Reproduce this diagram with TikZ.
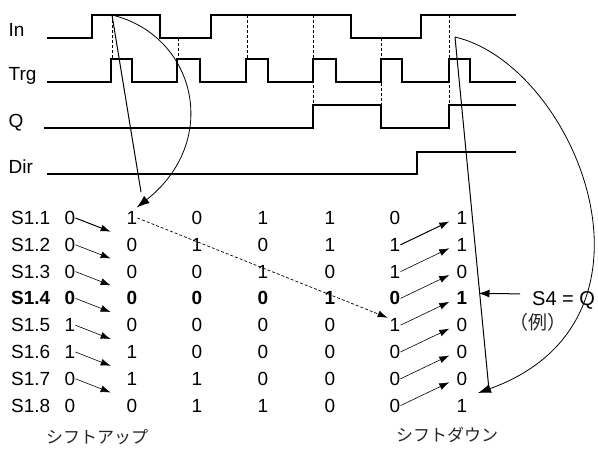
\documentclass[tikz,border=0pt]{standalone}
\usepackage{fontspec}
\setmainfont{Liberation Sans}
\newfontfamily\jpfont{Noto Sans CJK JP}
\usetikzlibrary{arrows.meta}

\tikzset{
  wave/.style={line width=1.1pt},
  sync/.style={densely dashed, line width=0.7pt},
  txt/.style={inner sep=0pt, font=\fontsize{19}{21}\selectfont},
  move/.style={line width=0.6pt, -{Latex[length=10pt,width=7pt]}},
  trail/.style={densely dashed, line width=0.7pt, -{Latex[length=10pt,width=7pt]}},
  swing/.style={line width=0.8pt, -{Latex[length=13pt,width=9pt]}},
  jp/.style={inner sep=0pt, font=\jpfont\fontsize{17}{19}\selectfont, text=black!85},
}

\begin{document}
\begin{tikzpicture}[x=1pt,y=-1pt]
  \useasboundingbox (0,0) rectangle (598,448);
  % signal names
  \node[txt, anchor=base west] (in)  at (8.5,36.5) {In};
  \node[txt, anchor=base west] (trg) at (8.5,80.5) {Trg};
  \node[txt, anchor=base west] (q)   at (8.5,127) {Q};
  \node[txt, anchor=base west] (dir) at (8.5,173) {Dir};
  % waveforms
  \draw[wave] (47,38) -- (92,38) -- (92,15) -- (160,15) -- (160,38) -- (211,38)
    -- (211,15) -- (351,15) -- (351,38) -- (421,38) -- (421,15) -- (516,15);
  \draw[wave] (47,82) -- (111,82) -- (111,59) -- (132,59) -- (132,82) -- (177,82)
    -- (177,59) -- (200,59) -- (200,82) -- (246,82) -- (246,59) -- (268,59)
    -- (268,82) -- (313,82) -- (313,59) -- (336,59) -- (336,82) -- (381,82)
    -- (381,59) -- (402,59) -- (402,82) -- (449,82) -- (449,59) -- (470,59)
    -- (470,82) -- (516,82);
  \draw[wave] (44,128) -- (313,128) -- (313,105) -- (381,105) -- (381,128)
    -- (449,128) -- (449,105) -- (516,105);
  \draw[wave] (47,174) -- (417,174) -- (417,152) -- (516,152);
  \foreach \x/\ya/\yb in {112/15/59, 178/38/59, 247/15/59, 313/15/105, 381/38/105, 449/15/105}
    \draw[sync] (\x,\ya) -- (\x,\yb);

  % register table
  \foreach \bits [count=\i] in {{0,1,0,1,1,0,1},{0,0,1,0,1,1,1},{0,0,0,1,0,1,0},{0,0,0,0,1,0,1},
                                {1,0,0,0,0,1,0},{1,1,0,0,0,0,0},{0,1,1,0,0,0,0},{0,0,1,1,0,0,1}}{
    \pgfmathsetmacro\yy{218+26.8*(\i-1)}
    \node[txt, anchor=west] (s\i) at (11,\yy) {\ifnum\i=4\bfseries\fi S1.\i};
    \foreach \b [count=\j from 0] in \bits {
      \pgfmathsetmacro\xx{{70,132,197,263,330,395,462}[\j]}
      \node[txt] (c\j-\i) at (\xx,\yy) {\ifnum\i=4\bfseries\fi\b};
    }
  }

  % shift up / shift down
  \draw[move, line width=1pt, shorten >=17pt] (c0-1.east) -- (c1-2.north west);
  \foreach \i [evaluate=\i as \k using int(\i+1)] in {2,...,7}
    \draw[move, shorten >=17pt] (c0-\i.east) -- (c1-\k.north west);
  \draw[move, line width=1pt, shorten >=8pt] (c5-2.east) -- (c6-1.west);
  \foreach \i [evaluate=\i as \k using int(\i-1)] in {3,...,8}
    \draw[move, shorten >=8pt] (c5-\i.east) -- (c6-\k.west);
  \draw[trail, shorten >=2pt] (c1-1.east) -- (c5-5.north west);

  % trigger arrows
  \coordinate (upsrc) at (112,15);
  \coordinate (upend) at (141,192);
  \draw[line width=1pt] (upsrc) -- (upend);
  \draw[swing, shorten >=6pt] (upsrc) .. controls (195,35) and (222,140) .. (c1-1.north);
  \coordinate (dnsrc) at (455,37);
  \coordinate (dnend) at (489,390);
  \coordinate (dntip) at (478,393);
  \draw[line width=1pt] (dnsrc) -- (dnend);
  \draw[swing] (dnsrc) .. controls (575,65) and (680,320) .. (dntip);

  % output
  \node[txt, font=\fontsize{20}{22}\selectfont, anchor=west] (s4) at (532,300) {S4 = Q};
  \node[jp, font=\jpfont\fontsize{19}{21}\selectfont] (ex) at (538,322) {（例）};
  \draw[line width=1pt, -{Latex[length=11pt,width=8pt]}, shorten <=12pt]
    ([yshift=6pt]s4.west) -- ([xshift=11pt,yshift=5pt]c6-4.east);

  \node[jp] (up)   at (97,437)  {シフトアップ};
  \node[jp] (down) at (447,435) {シフトダウン};
\end{tikzpicture}
\end{document}
